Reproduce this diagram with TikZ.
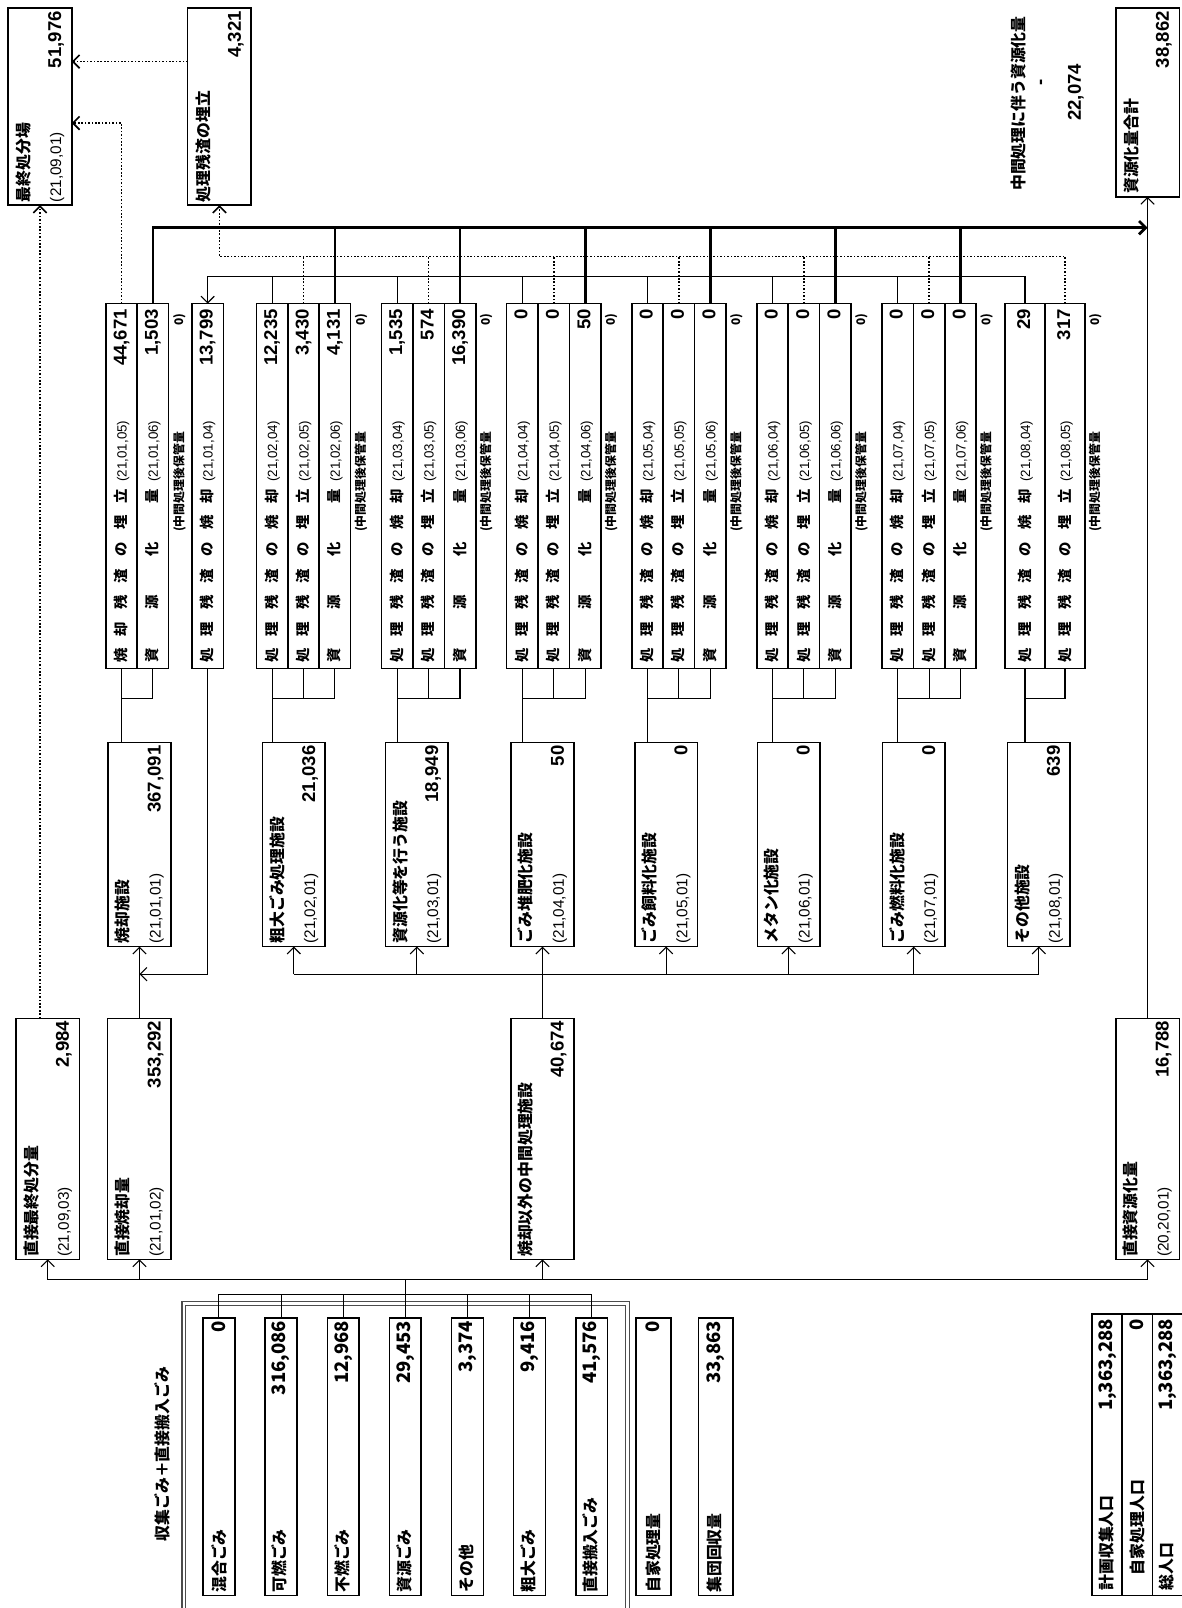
\documentclass[tikz,border=0pt]{standalone}
\usepackage{fontspec}
\usepackage{graphicx}
\setmainfont{Liberation Sans}
\newfontfamily\jp{Noto Sans CJK JP}
\usetikzlibrary{arrows.meta,positioning}

\newcommand{\lblfont}{\jp\bfseries\fontsize{8}{9}\selectfont}
\newcommand{\boxlbl}{\jp\bfseries\fontsize{8.8}{10}\selectfont}
\newcommand{\codefont}{\fontsize{7.4}{8}\selectfont}
\newcommand{\boxcode}{\fontsize{8.5}{10}\selectfont}
\newcommand{\numfont}{\bfseries\fontsize{10.3}{11}\selectfont}
\newcommand{\notefont}{\jp\bfseries\fontsize{6.6}{7}\selectfont}

% row labels spread over the label column
\newcommand{\resinc}{処\hfill 理\hfill 残\hfill 渣\hfill の\hfill 焼\hfill 却}
\newcommand{\resland}{処\hfill 理\hfill 残\hfill 渣\hfill の\hfill 埋\hfill 立}
\newcommand{\ashland}{焼\hfill 却\hfill 残\hfill 渣\hfill の\hfill 埋\hfill 立}
\newcommand{\recyc}{資\hfill 源\hfill 化\hfill 量}

\newcommand{\rowtext}[3]{\rotatebox{90}{\hbox to 6.9cm{\makebox[3.4cm][s]{\lblfont #1}\hspace{0.14cm}{\codefont #2}\hfil{\numfont #3}}}}
\newcommand{\twoline}[4]{\rotatebox{90}{\vbox{\baselineskip=0.62cm
  \hbox to #1{\boxlbl #2\hfil}\hbox to #1{\boxcode #3\hfil\numfont #4}}}}
\newcommand{\oneline}[3]{\rotatebox{90}{\hbox to #1{\boxlbl #2\hfil\numfont #3}}}

\begin{document}
\begin{tikzpicture}[x=0.02cm, y=-0.02cm,
    box/.style={draw, line width=0.9pt, fill=white, inner sep=0pt, outer sep=0pt},
    rowbox/.style={box, minimum width=0.613cm, minimum height=7.12cm},
    wrowbox/.style={box, minimum width=0.78cm, minimum height=7.12cm},
    plantbox/.style={box, minimum width=1.22cm, minimum height=3.98cm},
    flowbox/.style={box, minimum width=1.24cm, minimum height=4.7cm},
    endbox/.style={box, minimum width=1.24cm, minimum height=3.84cm},
    inbox/.style={box, minimum width=0.62cm, minimum height=5.42cm},
    popbox/.style={box, minimum width=0.587cm, minimum height=5.5cm},
    notetext/.style={inner sep=0pt, font=\notefont},
    link/.style={line width=0.6pt},
    bus/.style={line width=1.5pt},
    dotline/.style={line width=0.9pt, densely dotted},
    arrow/.style={-{Straight Barb[length=1.3mm, width=2.6mm]}}
  ]
  \fill[white] (0,0) rectangle (1152,1568);
  \useasboundingbox (0,0) rectangle (1152,1568);

  % disposal and recycling totals
  \node[endbox] (final) at (39,104) {\twoline{3.72cm}{最終処分場}{(21,09,01)}{51,976}};
  \node[endbox] (landfill) at (214,104) {\twoline{3.72cm}{処理残渣の埋立}{}{4,321}};
  \node[endbox, minimum height=3.68cm] (rectotal) at (1119,100) {\twoline{3.56cm}{資源化量合計}{}{38,862}};
  \node[inner sep=0pt] (midlbl) at (993,101) {\rotatebox{90}{\boxlbl 中間処理に伴う資源化量}};
  \node[inner sep=0pt] (middash) at (1017,80) {\rotatebox{90}{\numfont -}};
  \node[inner sep=0pt] (midval) at (1049,90) {\rotatebox{90}{\numfont 22,074}};

  % residue rows
  \node[rowbox] (g1a) at (118.5,474) {\rowtext{\ashland}{(21,01,05)}{44,671}};
  \node[rowbox, right=0pt of g1a] (g1b) {\rowtext{\recyc}{(21,01,06)}{1,503}};
  \node[rowbox] (reinc) at (202.5,474) {\rowtext{\resinc}{(21,01,04)}{13,799}};

  \node[rowbox] (g2a) at (265.3,474) {\rowtext{\resinc}{(21,02,04)}{12,235}};
  \node[rowbox, right=0pt of g2a] (g2b) {\rowtext{\resland}{(21,02,05)}{3,430}};
  \node[rowbox, right=0pt of g2b] (g2c) {\rowtext{\recyc}{(21,02,06)}{4,131}};

  \node[rowbox] (g3a) at (387.3,474) {\rowtext{\resinc}{(21,03,04)}{1,535}};
  \node[rowbox, right=0pt of g3a] (g3b) {\rowtext{\resland}{(21,03,05)}{574}};
  \node[rowbox, right=0pt of g3b] (g3c) {\rowtext{\recyc}{(21,03,06)}{16,390}};

  \node[rowbox] (g4a) at (509.3,474) {\rowtext{\resinc}{(21,04,04)}{0}};
  \node[rowbox, right=0pt of g4a] (g4b) {\rowtext{\resland}{(21,04,05)}{0}};
  \node[rowbox, right=0pt of g4b] (g4c) {\rowtext{\recyc}{(21,04,06)}{50}};

  \node[rowbox] (g5a) at (631.3,474) {\rowtext{\resinc}{(21,05,04)}{0}};
  \node[rowbox, right=0pt of g5a] (g5b) {\rowtext{\resland}{(21,05,05)}{0}};
  \node[rowbox, right=0pt of g5b] (g5c) {\rowtext{\recyc}{(21,05,06)}{0}};

  \node[rowbox] (g6a) at (753.3,474) {\rowtext{\resinc}{(21,06,04)}{0}};
  \node[rowbox, right=0pt of g6a] (g6b) {\rowtext{\resland}{(21,06,05)}{0}};
  \node[rowbox, right=0pt of g6b] (g6c) {\rowtext{\recyc}{(21,06,06)}{0}};

  \node[rowbox] (g7a) at (875.3,474) {\rowtext{\resinc}{(21,07,04)}{0}};
  \node[rowbox, right=0pt of g7a] (g7b) {\rowtext{\resland}{(21,07,05)}{0}};
  \node[rowbox, right=0pt of g7b] (g7c) {\rowtext{\recyc}{(21,07,06)}{0}};

  \node[wrowbox] (g8a) at (999.5,474) {\rowtext{\resinc}{(21,08,04)}{29}};
  \node[wrowbox, right=0pt of g8a] (g8b) {\rowtext{\resland}{(21,08,05)}{317}};

  % stored amounts
  \node[notetext] (n1) at (175,470) {\rotatebox{90}{(中間処理後保管量}};
  \node[notetext] (n2) at (352,470) {\rotatebox{90}{(中間処理後保管量}};
  \node[notetext] (n3) at (474,470) {\rotatebox{90}{(中間処理後保管量}};
  \node[notetext] (n4) at (596,470) {\rotatebox{90}{(中間処理後保管量}};
  \node[notetext] (n5) at (718,470) {\rotatebox{90}{(中間処理後保管量}};
  \node[notetext] (n6) at (840,470) {\rotatebox{90}{(中間処理後保管量}};
  \node[notetext] (n7) at (962,470) {\rotatebox{90}{(中間処理後保管量}};
  \node[notetext] (n8) at (1068,470) {\rotatebox{90}{(中間処理後保管量}};
  \node[notetext] (z1) at (175,312) {\rotatebox{90}{0)}};
  \node[notetext] (z2) at (352,312) {\rotatebox{90}{0)}};
  \node[notetext] (z3) at (474,312) {\rotatebox{90}{0)}};
  \node[notetext] (z4) at (596,312) {\rotatebox{90}{0)}};
  \node[notetext] (z5) at (718,312) {\rotatebox{90}{0)}};
  \node[notetext] (z6) at (840,312) {\rotatebox{90}{0)}};
  \node[notetext] (z7) at (962,312) {\rotatebox{90}{0)}};
  \node[notetext] (z8) at (1068,312) {\rotatebox{90}{0)}};

  % facilities
  \node[plantbox] (f1) at (136,823.5) {\twoline{3.86cm}{焼却施設}{(21,01,01)}{367,091}};
  \node[plantbox] (f2) at (286.5,823.5) {\twoline{3.86cm}{粗大ごみ処理施設}{(21,02,01)}{21,036}};
  \node[plantbox] (f3) at (406.5,823.5) {\twoline{3.86cm}{資源化等を行う施設}{(21,03,01)}{18,949}};
  \node[plantbox] (f4) at (529,823.5) {\twoline{3.86cm}{ごみ堆肥化施設}{(21,04,01)}{50}};
  \node[plantbox] (f5) at (649.5,823.5) {\twoline{3.86cm}{ごみ飼料化施設}{(21,05,01)}{0}};
  \node[plantbox] (f6) at (769,823.5) {\twoline{3.86cm}{メタン化施設}{(21,06,01)}{0}};
  \node[plantbox] (f7) at (891,823.5) {\twoline{3.86cm}{ごみ燃料化施設}{(21,07,01)}{0}};
  \node[plantbox] (f8) at (1013,823.5) {\twoline{3.86cm}{その他施設}{(21,08,01)}{639}};

  % direct flows
  \node[flowbox] (d1) at (46.5,1110.5) {\twoline{4.6cm}{直接最終処分量}{(21,09,03)}{2,984}};
  \node[flowbox] (d2) at (136,1110.5) {\twoline{4.6cm}{直接焼却量}{(21,01,02)}{353,292}};
  \node[flowbox] (d3) at (529,1110.5) {\twoline{4.6cm}{焼却以外の中間処理施設}{}{40,674}};
  \node[flowbox] (d4) at (1119,1110.5) {\twoline{4.6cm}{直接資源化量}{(20,20,01)}{16,788}};

  % collected waste
  \node[draw=black!70, double=white, double distance=1.2pt, line width=0.6pt,
        minimum width=8.66cm, minimum height=6.4cm] (frame) at (395.5,1431) {};
  \node[inner sep=0pt] (title) at (158,1418) {\rotatebox{90}{\boxlbl 収集ごみ＋直接搬入ごみ}};
  \node[inbox] (in1) at (213.5,1420.5) {\oneline{5.3cm}{混合ごみ}{0}};
  \node[inbox] (in2) at (274.1,1420.5) {\oneline{5.3cm}{可燃ごみ}{316,086}};
  \node[inbox] (in3) at (334.7,1420.5) {\oneline{5.3cm}{不燃ごみ}{12,968}};
  \node[inbox] (in4) at (395.2,1420.5) {\oneline{5.3cm}{資源ごみ}{29,453}};
  \node[inbox] (in5) at (455.8,1420.5) {\oneline{5.3cm}{その他}{3,374}};
  \node[inbox] (in6) at (516.4,1420.5) {\oneline{5.3cm}{粗大ごみ}{9,416}};
  \node[inbox] (in7) at (577,1420.5) {\oneline{5.3cm}{直接搬入ごみ}{41,576}};
  \node[inbox, minimum width=0.68cm] (self) at (637,1420.5) {\oneline{5.3cm}{自家処理量}{0}};
  \node[inbox, minimum width=0.68cm] (grp) at (698,1420.5) {\oneline{5.3cm}{集団回収量}{33,863}};

  % population
  \node[popbox] (pop1) at (1079.7,1418.5) {\oneline{5.3cm}{計画収集人口}{1,363,288}};
  \node[popbox, right=0pt of pop1] (pop2) {\oneline{5.3cm}{\hspace{0.3cm}自家処理人口}{0}};
  \node[popbox, right=0pt of pop2] (pop3) {\oneline{5.3cm}{総人口}{1,363,288}};

  % collected waste to direct flows
  \draw[link] (in1.north) -- ++(0,-23) coordinate (ij) -- (ij -| in7.north) -- (in7.north);
  \draw[link] (in2.north) -- (in2.north |- ij);
  \draw[link] (in3.north) -- (in3.north |- ij);
  \draw[link] (in5.north) -- (in5.north |- ij);
  \draw[link] (in6.north) -- (in6.north |- ij);
  \draw[link] (in4.north) -- ++(0,-37) coordinate (mb);
  \draw[link] (mb -| d1.south) -- (mb -| d4.south);
  \draw[link, arrow] (mb -| d1.south) -- (d1.south);
  \draw[link, arrow] (mb -| d2.south) -- (d2.south);
  \draw[link, arrow] (mb -| d3.south) -- (d3.south);
  \draw[link, arrow] (mb -| d4.south) -- (d4.south);

  % direct flows onward
  \draw[dotline, arrow] (d1.north -| final.south) -- (final.south);
  \draw[link, arrow] (d2.north) -- (f1.south);
  \draw[link, arrow] (d4.north) -- (rectotal.south);
  \draw[link] (d3.north) -- ++(0,-43) coordinate (fb);
  \draw[link] (fb -| f2.south) -- (fb -| f8.south);
  \draw[link, arrow] (fb -| f2.south) -- (f2.south);
  \draw[link, arrow] (fb -| f3.south) -- (f3.south);
  \draw[link, arrow] (fb -| f4.south) -- (f4.south);
  \draw[link, arrow] (fb -| f5.south) -- (f5.south);
  \draw[link, arrow] (fb -| f6.south) -- (f6.south);
  \draw[link, arrow] (fb -| f7.south) -- (f7.south);
  \draw[link, arrow] (fb -| f8.south) -- (f8.south);
  \draw[link, arrow] (reinc.south) -- ++(0,298) coordinate (rb) -- (rb -| f1.south);

  % facilities to residue rows
  \draw[link] (g1a.south) -- ++(0,29) -| (g1b.south);
  \draw[link] (g1a.south) -- (g1a.south |- f1.north);
  \draw[link] (g2a.south) -- ++(0,29) -| (g2c.south);
  \draw[link] (g2b.south) -- ++(0,29);
  \draw[link] (g2a.south) -- (g2a.south |- f2.north);
  \draw[link] (g3a.south) -- ++(0,29) -| (g3c.south);
  \draw[link] (g3b.south) -- ++(0,29);
  \draw[link] (g3a.south) -- (g3a.south |- f3.north);
  \draw[link] (g4a.south) -- ++(0,29) -| (g4c.south);
  \draw[link] (g4b.south) -- ++(0,29);
  \draw[link] (g4a.south) -- (g4a.south |- f4.north);
  \draw[link] (g5a.south) -- ++(0,29) -| (g5c.south);
  \draw[link] (g5b.south) -- ++(0,29);
  \draw[link] (g5a.south) -- (g5a.south |- f5.north);
  \draw[link] (g6a.south) -- ++(0,29) -| (g6c.south);
  \draw[link] (g6b.south) -- ++(0,29);
  \draw[link] (g6a.south) -- (g6a.south |- f6.north);
  \draw[link] (g7a.south) -- ++(0,29) -| (g7c.south);
  \draw[link] (g7b.south) -- ++(0,29);
  \draw[link] (g7a.south) -- (g7a.south |- f7.north);
  \draw[link] (g8a.south) -- ++(0,29) -| (g8b.south);
  \draw[link] (g8a.south) -- (g8a.south |- f8.north);

  % residues to be incinerated
  \draw[link, arrow] (g8a.north) -- ++(0,-26) -| (reinc.north);
  \draw[link] (g2a.north) -- ++(0,-26);
  \draw[link] (g3a.north) -- ++(0,-26);
  \draw[link] (g4a.north) -- ++(0,-26);
  \draw[link] (g5a.north) -- ++(0,-26);
  \draw[link] (g6a.north) -- ++(0,-26);
  \draw[link] (g7a.north) -- ++(0,-26);

  % residues to landfill
  \draw[dotline, arrow] (g8b.north) -- ++(0,-46) -| (landfill.south);
  \draw[dotline] (g2b.north) -- ++(0,-46);
  \draw[dotline] (g3b.north) -- ++(0,-46);
  \draw[dotline] (g4b.north) -- ++(0,-46);
  \draw[dotline] (g5b.north) -- ++(0,-46);
  \draw[dotline] (g6b.north) -- ++(0,-46);
  \draw[dotline] (g7b.north) -- ++(0,-46);
  \draw[dotline, arrow] (g1a.north) |- ([yshift=-0.32cm]final.east);
  \draw[dotline, arrow] ([yshift=0.88cm]landfill.west) -- ([yshift=0.88cm]final.east);

  % recycled amounts
  \draw[bus, arrow] (g1b.north) -- ++(0,-74) coordinate (tb) -- (tb -| d4.north);
  \draw[bus] (g2c.north) -- ++(0,-74);
  \draw[bus] (g3c.north) -- ++(0,-74);
  \draw[bus] (g4c.north) -- ++(0,-74);
  \draw[bus] (g5c.north) -- ++(0,-74);
  \draw[bus] (g6c.north) -- ++(0,-74);
  \draw[bus] (g7c.north) -- ++(0,-74);
\end{tikzpicture}
\end{document}
